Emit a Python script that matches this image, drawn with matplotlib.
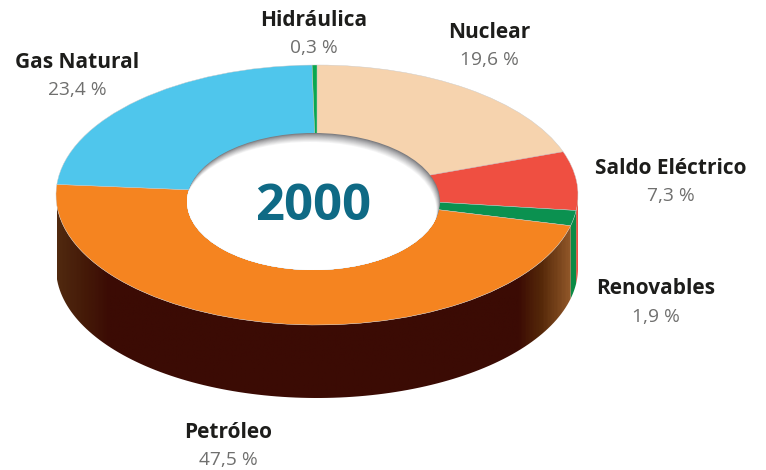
#!/usr/bin/env python3
"""Donut 2000 con pared 3D: la tapa es un pie aplastado, la pared se saca de los mismos angulos."""
import numpy as np
import matplotlib
matplotlib.use("Agg")
import matplotlib.pyplot as plt
from matplotlib.colors import LinearSegmentedColormap, to_rgb
from matplotlib.patches import Ellipse, Polygon

categories = ["Nuclear", "Saldo Eléctrico", "Renovables", "Petróleo", "Gas Natural", "Hidráulica"]
values = [19.6, 7.3, 1.9, 47.5, 23.4, 0.3]
top_colors = ["#f6d3ae", "#ef4f41", "#0b9150", "#f58420", "#4fc6ec", "#0aa84f"]
wall_colors = ["#ef4f41", "#ef4f41", "#0b8a45", None, None, None]
year = "2000"

label_xy = {"Nuclear": (489, 32), "Saldo Eléctrico": (671, 168), "Renovables": (656, 289),
            "Petróleo": (228, 432), "Gas Natural": (77, 62), "Hidráulica": (314, 20)}

W, H = 766, 470
CX, CY, RX, RY = 317, 195, 261, 130   # elipse de la tapa, en px
DEPTH = 73 / RY
FONT = "Open Sans"

fig = plt.figure(figsize=(W / 100, H / 100), dpi=100)
ax = fig.add_axes([0, 0, 1, 1])

# tapa
ax.pie(values, colors=top_colors, startangle=90, counterclock=False, radius=1,
       wedgeprops={"linewidth": 0.3, "edgecolor": "#c9c9c9", "zorder": 5})
ax.set_aspect("auto")

# pared: solo la mitad delantera de cada porcion
cum = np.concatenate([[0], np.cumsum(values)])
angles = 90 - cum * 360 / sum(values)
brown = LinearSegmentedColormap.from_list("wall", [
    (0.0, "#50290f"), (0.05, "#451a08"), (0.1, "#3b0b04"), (0.9, "#3b0b04"),
    (0.945, "#552809"), (1.0, "#8f5628")])
for i, cat in enumerate(categories):
    hi, lo = min(angles[i], 0), max(angles[i + 1], -180)
    if hi <= lo:
        continue
    t = np.radians(np.linspace(lo, hi, 120))
    xs, ys = np.cos(t), np.sin(t)
    pts = np.column_stack([np.r_[xs, xs[::-1]], np.r_[ys, ys[::-1] - DEPTH]])
    if wall_colors[i]:
        ax.add_patch(Polygon(pts, closed=True, fc=wall_colors[i], lw=0, zorder=1))
    else:
        extent = [(57 - CX) / RX, (571 - CX) / RX, -1 - DEPTH, 0]
        im = ax.imshow(np.linspace(0, 1, 400)[None, :], cmap=brown, aspect="auto",
                       extent=extent, zorder=2)
        im.set_clip_path(Polygon(pts, closed=True, transform=ax.transData))

# hueco con sombra interior arriba
hx, hy = (313.5 - CX) / RX, (CY - 201.5) / RY
hw, hh = 2 * 126.5 / RX, 2 * 68.5 / RY
hole = Ellipse((hx, hy), hw, hh, fc="#7c7c80", lw=0, zorder=6)
ax.add_patch(hole)
n = 10
for k in range(1, n + 1):
    c = np.array(to_rgb("#7c7c80")) + (1 - np.array(to_rgb("#7c7c80"))) * (k / n) ** 0.8
    e = Ellipse((hx - 0.35 * k / RX, hy - 0.9 * k / RY), hw, hh, fc=c, lw=0, zorder=6 + k * 0.01)
    ax.add_patch(e)
    e.set_clip_path(hole)

ax.set_xlim(-CX / RX, (W - CX) / RX)
ax.set_ylim((CY - H) / RY, CY / RY)
ax.axis("off")


def put(x, y, s, **kw):
    fig.text(x / W, 1 - y / H, s, ha="center", va="center", family=FONT, **kw)


for cat, val in zip(categories, values):
    x, y = label_xy[cat]
    put(x, y, cat, fontsize=15, fontweight="bold", color="#1d1d1b")
    put(x, y + 28, f"{val:.1f}".replace(".", ",") + " %", fontsize=13.8, color="#6f6f6e")
put(313, 207, year, fontsize=36.5, fontweight="bold", color="#0f6a85")

fig.savefig("out.png", dpi=100)
